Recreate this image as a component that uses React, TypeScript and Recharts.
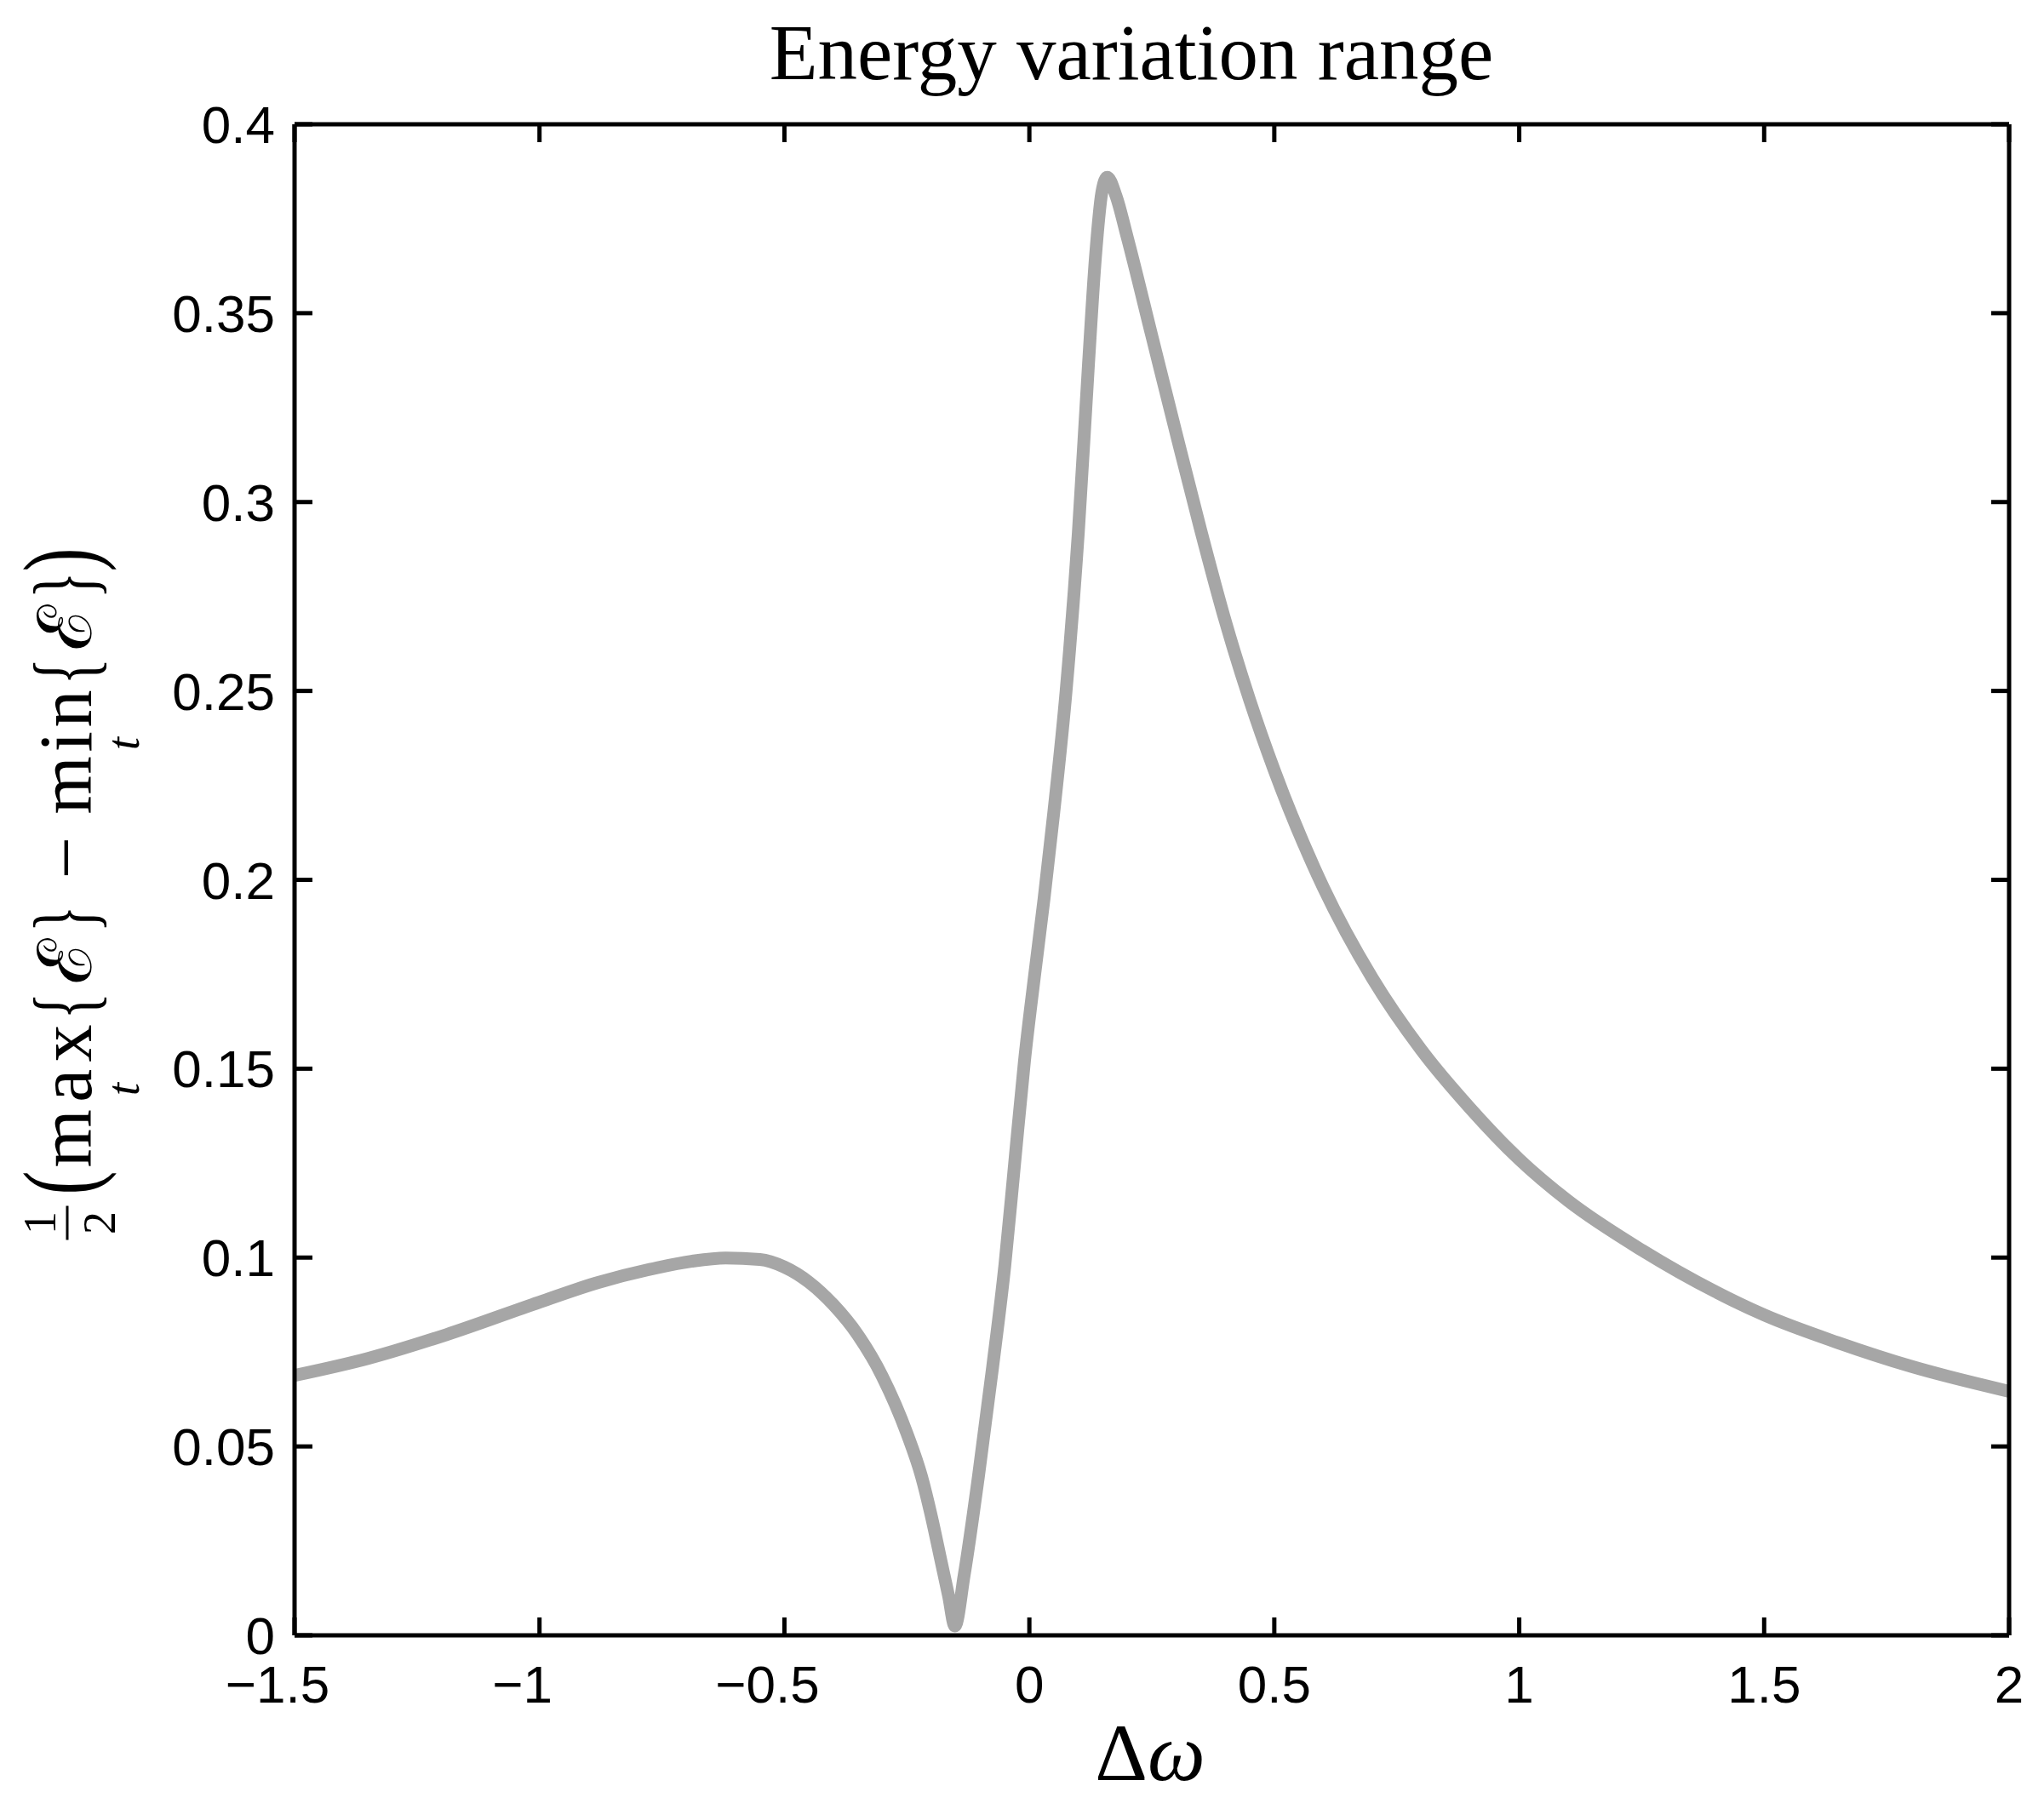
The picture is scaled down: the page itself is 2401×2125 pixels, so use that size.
import { Line, LineChart, XAxis, YAxis } from "recharts";

const omega = [
  -1.5, -1.35, -1.19, -1.0, -0.88, -0.76, -0.69, -0.62, -0.55, -0.5, -0.45,
  -0.4, -0.35, -0.3, -0.25, -0.22, -0.2, -0.18, -0.165, -0.152, -0.133,
  -0.104, -0.075, -0.05, -0.03, -0.01, 0.01, 0.03, 0.05, 0.075, 0.1, 0.12,
  0.135, 0.148, 0.159, 0.177, 0.2, 0.25, 0.3, 0.35, 0.4, 0.45, 0.5, 0.6, 0.7,
  0.8, 0.9, 1.0, 1.1, 1.25, 1.4, 1.5, 1.65, 1.8, 2.0,
];
const energyRange = [
  0.0688, 0.0733, 0.0796, 0.0882, 0.0934, 0.0973, 0.099, 0.0999, 0.0995,
  0.0975, 0.0935, 0.0875, 0.0795, 0.0685, 0.0535, 0.042, 0.0315, 0.0195,
  0.0105, 0.0025, 0.016, 0.042, 0.071, 0.098, 0.125, 0.152, 0.174, 0.195,
  0.218, 0.25, 0.292, 0.335, 0.365, 0.382, 0.386, 0.381, 0.37, 0.344, 0.318,
  0.2925, 0.2685, 0.2475, 0.229, 0.198, 0.174, 0.155, 0.1395, 0.126, 0.115,
  0.102, 0.091, 0.0848, 0.0775, 0.0712, 0.0646,
];
const xTicks = [-1.5, -1, -0.5, 0, 0.5, 1, 1.5, 2];
const yTicks = [0, 0.05, 0.1, 0.15, 0.2, 0.25, 0.3, 0.35, 0.4];

const data = omega.map((x, i) => ({ x, y: energyRange[i] }));

const SANS = "'Liberation Sans', Arial, Helvetica, sans-serif";
const SERIF = "'Liberation Serif', 'DejaVu Serif', 'Times New Roman', serif";
const TICK_LEN = 21;
const AXIS_W = 5;

const fmt = (v: number) => {
  const s = String(Number(Math.abs(v).toFixed(2)));
  return v < 0 ? "\u2212" + s : s;
};

const BottomTick = (props: any) => {
  const { x, y, payload } = props;
  const v = payload.value as number;
  return (
    <g>
      <line x1={x} y1={y} x2={x} y2={y - TICK_LEN} stroke="#000" strokeWidth={AXIS_W} />
      <text
        x={v < 0 ? x - 20 : x}
        y={y + 79}
        textAnchor="middle"
        fontSize={62}
        fontFamily={SANS}
        fill="#000"
      >
        {fmt(v)}
      </text>
    </g>
  );
};

const TopTick = (props: any) => {
  const { x, y } = props;
  return <line x1={x} y1={y} x2={x} y2={y + TICK_LEN} stroke="#000" strokeWidth={AXIS_W} />;
};

const LeftTick = (props: any) => {
  const { x, y, payload } = props;
  return (
    <g>
      <line x1={x} y1={y} x2={x + TICK_LEN} y2={y} stroke="#000" strokeWidth={AXIS_W} />
      <text
        x={x - 23}
        y={y + 22}
        textAnchor="end"
        fontSize={62}
        fontFamily={SANS}
        fill="#000"
      >
        {fmt(payload.value)}
      </text>
    </g>
  );
};

const RightTick = (props: any) => {
  const { x, y } = props;
  return <line x1={x} y1={y} x2={x - TICK_LEN} y2={y} stroke="#000" strokeWidth={AXIS_W} />;
};

const Title = (props: any) => {
  const { x, y, width, height } = props.viewBox;
  return (
    <text
      x={x + width / 2 - 24}
      y={y + height - 53}
      textAnchor="middle"
      fontSize={93}
      fontFamily={SERIF}
      fill="#000"
    >
      Energy variation range
    </text>
  );
};

const XTitle = (props: any) => {
  const { x, y, width } = props.viewBox;
  return (
    <text x={x + width / 2 - 2} y={y + 170} textAnchor="middle" fontSize={96} fontFamily={SERIF} fill="#000">
      <tspan>Δ</tspan>
      <tspan fontStyle="italic">ω</tspan>
    </text>
  );
};

// y label: ½(max_t{ℰ} − min_t{ℰ}), laid out along the rotated baseline
const YTitle = (props: any) => {
  const { x, y, height } = props.viewBox;
  const ox = x + 99;
  const oy = y + height / 2 + 423;
  const t = (s: string, px: number, py: number, size: number, extra: any = {}) => (
    <text x={px} y={py} fontSize={size} fontFamily={SERIF} fill="#000" {...extra}>
      {s}
    </text>
  );
  const tall = (s: string, px: number, py: number, sx: number, sy: number, anchor = "start") => (
    <text
      transform={`translate(${px},0) scale(${sx},${sy})`}
      x={0}
      y={py}
      fontSize={88}
      fontFamily={SERIF}
      textAnchor={anchor}
      fill="#000"
    >
      {s}
    </text>
  );
  return (
    <g transform={`translate(${ox},${oy}) rotate(-90)`}>
      {t("1", 20, -42, 54, { textAnchor: "middle" })}
      <line x1={0} y1={-28} x2={40} y2={-28} stroke="#000" strokeWidth={3} />
      {t("2", 20, 28, 54, { textAnchor: "middle" })}
      {tall("(", 53, 3, 0.95, 1.38)}
      {t("max", 85, 0, 88, { textLength: 168, lengthAdjust: "spacing" })}
      {t("t", 177, 56, 54, { textAnchor: "middle", fontStyle: "italic" })}
      {tall("{", 259, 3, 0.75, 1.18)}
      {t("\u2130", 327, 0, 88, { textAnchor: "middle" })}
      {tall("}", 393, 3, 0.75, 1.18, "end")}
      {t("\u2212", 449, 0, 88, { textAnchor: "middle" })}
      {t("min", 500, 0, 88, { textLength: 146, lengthAdjust: "spacing" })}
      {t("t", 583, 56, 54, { textAnchor: "middle", fontStyle: "italic" })}
      {tall("{", 652, 3, 0.75, 1.18)}
      {t("\u2130", 719, 0, 88, { textAnchor: "middle" })}
      {tall("}", 785, 3, 0.75, 1.18, "end")}
      {tall(")", 785, 3, 0.95, 1.38)}
    </g>
  );
};

export default function App() {
  return (
    <div style={{ width: 2385, height: 2109, background: "#fff" }}>
      <LineChart
        width={2385}
        height={2109}
        data={data}
        margin={{ top: 137, right: 32, bottom: 0, left: 0 }}
      >
        <XAxis
          xAxisId="main"
          dataKey="x"
          type="number"
          domain={[-1.5, 2]}
          ticks={xTicks}
          interval={0}
          allowDataOverflow
          height={196}
          tickSize={0}
          tickMargin={0}
          tickLine={false}
          axisLine={{ stroke: "#000", strokeWidth: AXIS_W }}
          tick={<BottomTick />}
          label={<XTitle />}
        />
        <XAxis
          xAxisId="top"
          orientation="top"
          dataKey="x"
          type="number"
          domain={[-1.5, 2]}
          ticks={xTicks}
          interval={0}
          allowDataOverflow
          height={1}
          tickSize={0}
          tickMargin={0}
          tickLine={false}
          axisLine={{ stroke: "#000", strokeWidth: AXIS_W }}
          tick={<TopTick />}
          label={<Title />}
        />
        <YAxis
          yAxisId="main"
          type="number"
          domain={[0, 0.4]}
          ticks={yTicks}
          interval={0}
          allowDataOverflow
          width={338}
          tickSize={0}
          tickMargin={0}
          tickLine={false}
          axisLine={{ stroke: "#000", strokeWidth: AXIS_W }}
          tick={<LeftTick />}
          label={<YTitle />}
        />
        <YAxis
          yAxisId="right"
          orientation="right"
          type="number"
          domain={[0, 0.4]}
          ticks={yTicks}
          interval={0}
          allowDataOverflow
          width={1}
          tickSize={0}
          tickMargin={0}
          tickLine={false}
          axisLine={{ stroke: "#000", strokeWidth: AXIS_W }}
          tick={<RightTick />}
        />
        <Line
          xAxisId="top"
          yAxisId="right"
          dataKey="y"
          stroke="none"
          dot={false}
          activeDot={false}
          isAnimationActive={false}
          legendType="none"
        />
        <Line
          xAxisId="main"
          yAxisId="main"
          dataKey="y"
          type="monotone"
          stroke="#a6a6a6"
          strokeWidth={15}
          strokeLinejoin="round"
          dot={false}
          activeDot={false}
          isAnimationActive={false}
        />
      </LineChart>
    </div>
  );
}
